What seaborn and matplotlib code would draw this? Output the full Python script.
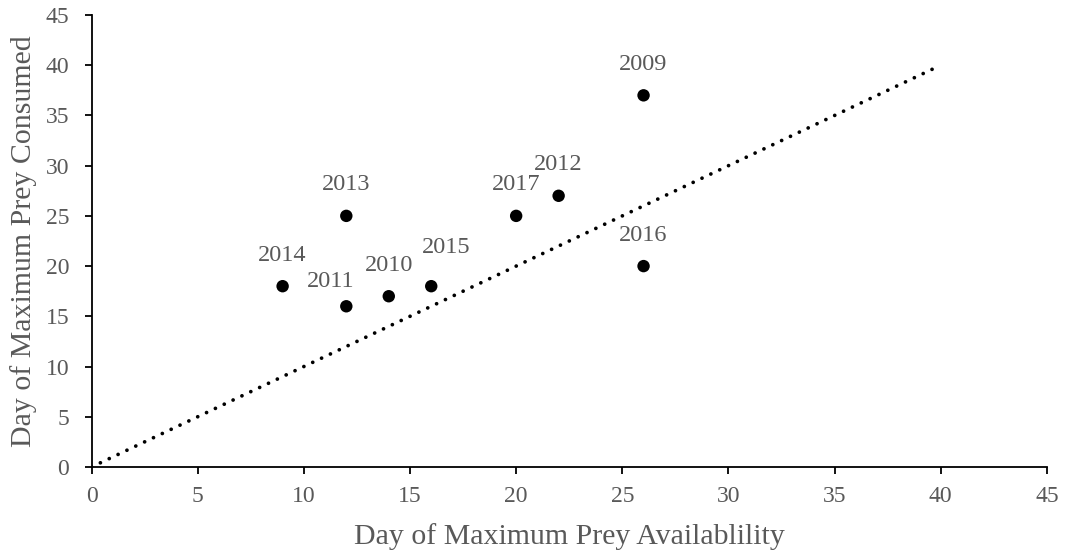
import numpy as np
import pandas as pd
import matplotlib
matplotlib.use('Agg')
import matplotlib.pyplot as plt
import seaborn as sns

# Data
years = ['2009', '2010', '2011', '2012', '2013', '2014', '2015', '2016', '2017']
prey_available = [26, 14, 12, 22, 12, 9, 16, 26, 20]
prey_consumed = [37, 17, 16, 27, 25, 18, 18, 20, 25]
line_x = [0, 40]
line_y = [0, 40]

df = pd.DataFrame({'year': years, 'available': prey_available, 'consumed': prey_consumed})

sns.set_style('white')
plt.rcParams['font.family'] = ['Liberation Serif', 'DejaVu Serif']
grey = '#595959'

fig = plt.figure(figsize=(10.68, 5.59), dpi=100)
ax = fig.add_axes([0.0857, 0.1646, 0.8946, 0.8086])

ax.plot(line_x, line_y, color='black', linewidth=2.7, linestyle=(0, (0.01, 2.6)),
        dash_capstyle='round', zorder=1)
sns.scatterplot(data=df, x='available', y='consumed', ax=ax, color='black',
                s=80, edgecolor='none', zorder=3)

# label offsets in pixels (most sit centred above the point)
offsets = {'2011': (-16, 25), '2015': (15, 39)}
for _, row in df.iterrows():
    dx, dy = offsets.get(row['year'], (0, 31))
    ax.annotate(row['year'], (row['available'], row['consumed']),
                xytext=(dx * 0.72, dy * 0.72), textcoords='offset points',
                ha='center', va='center', fontsize=17.5, color=grey)

ax.set_xlim(0, 45)
ax.set_ylim(0, 45)
ax.set_xticks(np.arange(0, 46, 5))
ax.set_yticks(np.arange(0, 46, 5))
ax.tick_params(axis='both', direction='out', length=5, width=1.3, color='black',
               labelsize=17, labelcolor=grey, bottom=True, left=True)
ax.tick_params(axis='x', pad=9)
ax.tick_params(axis='y', pad=11)
for side in ['top', 'right']:
    ax.spines[side].set_visible(False)
for side in ['left', 'bottom']:
    ax.spines[side].set_color('black')
    ax.spines[side].set_linewidth(1.3)

ax.set_xlabel('Day of Maximum Prey Availablility', fontsize=21.5, color=grey, labelpad=11)
ax.set_ylabel('Day of Maximum Prey Consumed', fontsize=21.5, color=grey, labelpad=6)

fig.savefig('out.png', dpi=100)
